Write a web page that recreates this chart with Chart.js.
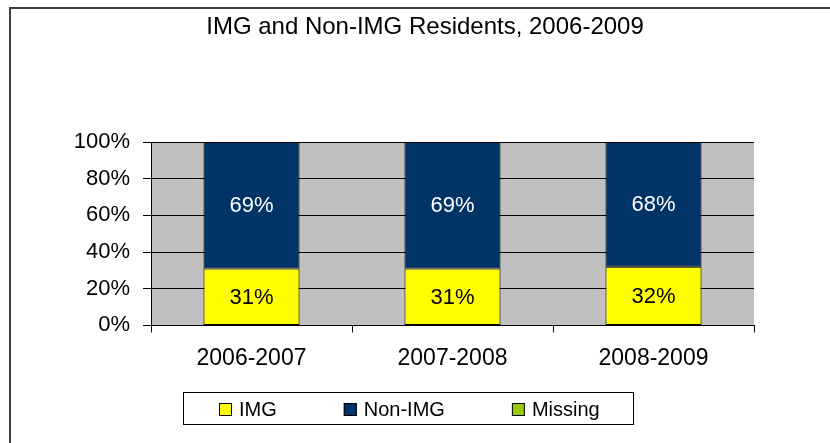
<!DOCTYPE html>
<html>
<head>
<meta charset="utf-8">
<title>IMG and Non-IMG Residents, 2006-2009</title>
<script src="https://cdn.jsdelivr.net/npm/chart.js@4.4.1/dist/chart.umd.min.js"></script>
<style>
  html, body { margin: 0; padding: 0; background: #fff; }
  #wrap { width: 830px; height: 443px; }
</style>
</head>
<body>
<div id="wrap"><canvas id="chart" width="830" height="443"></canvas></div>
<script>
// data
var chartTitle = 'IMG and Non-IMG Residents, 2006-2009';
var years = ["2006-2007", "2007-2008", "2008-2009"];
var imgValues = [31, 31, 32];
var nonImgValues = [69, 69, 68];
var missingValues = [0, 0, 0];
var yTicks = [0, 20, 40, 60, 80, 100];

const ctx = document.querySelector("#chart").getContext('2d');

Chart.defaults.font.family = "'Liberation Sans', Arial, sans-serif";
Chart.defaults.color = '#000';

// gray plot area, the frame on the left and top, and the title
const background = {
  id: 'background',
  beforeDraw(chart) {
    const c = chart.ctx;
    const a = chart.chartArea;
    c.save();
    c.fillStyle = '#c0c0c0';
    c.fillRect(a.left, a.top, a.right - a.left, a.bottom - a.top);
    c.fillStyle = '#404040';
    c.fillRect(9, 7, 2, 436);
    c.fillRect(9, 7, 821, 2);
    // title is centred on the whole frame, not on the plot
    c.fillStyle = '#000';
    c.font = "24px 'Liberation Sans', Arial, sans-serif";
    c.textAlign = 'center';
    c.textBaseline = 'middle';
    c.fillText(chartTitle, 425, 27.5);
    c.restore();
  }
};

// value labels in the middle of each bar
const barLabels = {
  id: 'barLabels',
  afterDatasetsDraw(chart) {
    const c = chart.ctx;
    c.save();
    c.font = "22px 'Liberation Sans', Arial, sans-serif";
    c.textAlign = 'center';
    c.textBaseline = 'middle';
    chart.data.datasets.forEach((ds, i) => {
      if (!ds.labelColor) return;
      chart.getDatasetMeta(i).data.forEach((bar, j) => {
        if (!ds.data[j]) return;
        c.fillStyle = ds.labelColor;
        c.fillText(ds.data[j] + '%', bar.x, (bar.y + bar.base) / 2 + 1);
      });
    });
    c.restore();
  }
};

// boxed legend under the axis
const boxLegend = {
  id: 'boxLegend',
  afterDraw(chart) {
    const c = chart.ctx;
    const sets = chart.data.datasets;
    const box = 13, gap = 7, space = 67, mid = 409;
    c.save();
    c.font = "20px 'Liberation Sans', Arial, sans-serif";
    c.textBaseline = 'middle';
    let total = 0;
    sets.forEach((ds, i) => {
      total += box + gap + c.measureText(ds.label).width;
      if (i < sets.length - 1) total += space;
    });
    let x = Math.round(409 - total / 2);
    c.strokeStyle = '#000';
    c.lineWidth = 1;
    c.strokeRect(x - 36 + 0.5, 392.5, Math.round(total) + 69, 32);
    sets.forEach((ds) => {
      c.fillStyle = ds.backgroundColor;
      c.fillRect(x, mid - 6, box, box);
      c.strokeStyle = '#000';
      c.strokeRect(x + 0.5, mid - 6 + 0.5, box - 1, box - 1);
      c.fillStyle = '#000';
      c.fillText(ds.label, x + box + gap, mid + 1);
      x += box + gap + c.measureText(ds.label).width + space;
    });
    c.restore();
  }
};

new Chart(ctx, {
  type: 'bar',
  data: {
    labels: years,
    datasets: [
      {
        label: 'IMG',
        data: imgValues,
        backgroundColor: '#ffff00',
        borderColor: '#000',
        borderWidth: 1,
        borderSkipped: false,
        labelColor: '#000'
      },
      {
        label: 'Non-IMG',
        data: nonImgValues,
        backgroundColor: '#003366',
        borderColor: '#000',
        borderWidth: 1,
        borderSkipped: false,
        labelColor: '#fff'
      },
      {
        label: 'Missing',
        data: missingValues,
        backgroundColor: '#99cc00',
        borderColor: '#000',
        borderWidth: 0
      }
    ]
  },
  options: {
    responsive: false,
    animation: false,
    datasets: {
      bar: { barPercentage: 0.478, categoryPercentage: 1 }
    },
    layout: {
      padding: { left: 60, right: 76, top: 142, bottom: 59 }
    },
    plugins: {
      legend: { display: false },
      tooltip: { enabled: false },
      title: { display: false }
    },
    scales: {
      x: {
        stacked: true,
        border: { color: '#000', width: 1 },
        grid: { drawOnChartArea: false, tickLength: 7, color: '#000' },
        ticks: { font: { size: 23 }, padding: 12, color: '#000' }
      },
      y: {
        stacked: true,
        min: 0,
        max: 100,
        afterFit(scale) { scale.width = 91; },
        afterBuildTicks(scale) { scale.ticks = yTicks.map(v => ({ value: v })); },
        border: { color: '#000', width: 1 },
        grid: { color: '#000', tickLength: 8 },
        ticks: {
          font: { size: 22 },
          padding: 13,
          color: '#000',
          callback: v => v + '%'
        }
      }
    }
  },
  plugins: [background, barLabels, boxLegend]
});
</script>
</body>
</html>
